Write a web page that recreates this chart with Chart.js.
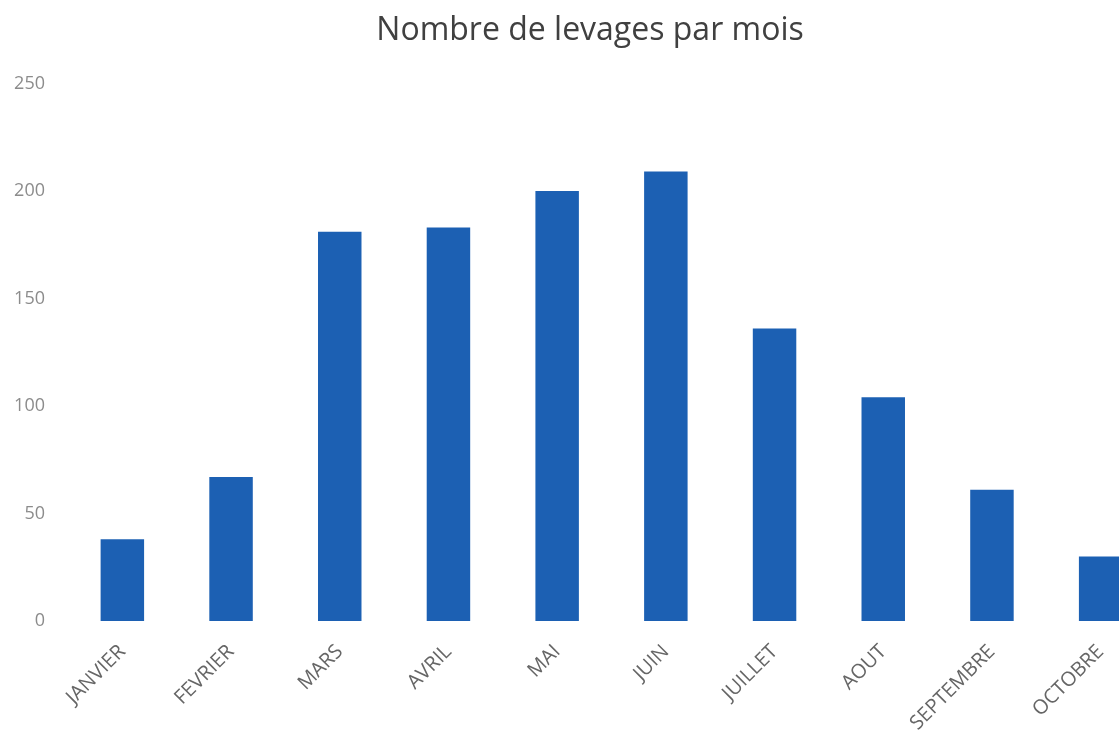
<!DOCTYPE html>
<html lang="fr">
<head>
<meta charset="UTF-8">
<title>Levages par mois</title>
<script src="https://cdn.jsdelivr.net/npm/chart.js"></script>
<style>
  html, body { margin: 0; padding: 0; background: #fff; overflow: hidden; }
  #wrap { width: 1155px; height: 733px; }
</style>
</head>
<body>
<div id="wrap"><canvas id="levages"></canvas></div>
<script>
// mois et nombre de levages
const mois = ['JANVIER', 'FEVRIER', 'MARS', 'AVRIL', 'MAI', 'JUIN', 'JUILLET', 'AOUT', 'SEPTEMBRE', 'OCTOBRE'];
const levages = [38, 67, 181, 183, 200, 209, 136, 104, 61, 30];
const yMax = 250;
const yStep = 50;

// le titre est centré sur la page visible, pas sur tout le canvas
const decalageTitre = {
  id: 'decalageTitre',
  afterLayout(chart) {
    if (chart.titleBlock) chart.titleBlock.left = 25;
  }
};

const config = {
  type: 'bar',
  data: {
    labels: mois,
    datasets: [{
      label: 'Levages',
      data: levages,
      backgroundColor: '#1c60b3',
      categoryPercentage: 0.4,
      barPercentage: 1.0
    }]
  },
  options: {
    responsive: true,
    maintainAspectRatio: false,
    animation: false,
    layout: { padding: { top: 12, right: 0, bottom: 0, left: 0 } },
    plugins: {
      legend: { display: false },
      tooltip: { enabled: false },
      title: {
        display: true,
        text: 'Nombre de levages par mois',
        color: '#404040',
        font: { family: 'Open Sans', size: 32, weight: 'normal' },
        padding: { top: 0, bottom: 33 }
      }
    },
    scales: {
      x: {
        grid: { display: false, drawTicks: false },
        border: { display: false },
        ticks: {
          color: '#666666',
          font: { family: 'Open Sans', size: 20 },
          minRotation: 45,
          maxRotation: 45,
          padding: 19
        },
        afterFit: (s) => { s.height = 112; }
      },
      y: {
        min: 0,
        max: yMax,
        grid: { display: false, drawTicks: false },
        border: { display: false },
        ticks: {
          stepSize: yStep,
          color: '#8c8c8c',
          font: { family: 'Open Sans', size: 18 },
          padding: 23
        },
        afterFit: (s) => { s.width = 68; }
      }
    }
  },
  plugins: [decalageTitre]
};

new Chart(document.getElementById('levages'), config);
</script>
</body>
</html>
